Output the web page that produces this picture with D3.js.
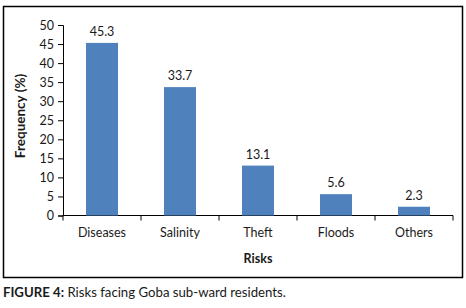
<!DOCTYPE html>
<html>
<head>
<meta charset="utf-8">
<script src="https://cdn.jsdelivr.net/npm/d3@7"></script>
<style>
  body { margin: 0; background: #fff; }
  svg text { font-family: Lato, "Open Sans", sans-serif; fill: #1a1a1a; }
</style>
</head>
<body>
<div id="chart"></div>
<script>
// data
const risks = ["Diseases", "Salinity", "Theft", "Floods", "Others"]
const frequency = [45.3, 33.7, 13.1, 5.6, 2.3]
const yTicks = [0, 5, 10, 15, 20, 25, 30, 35, 40, 45, 50]

const W = 466, H = 308
const svg = d3.select("#chart").append("svg")
    .attr("width", W).attr("height", H)

// outer frame
svg.append("rect").attr("x", 3.5).attr("y", 6.5).attr("width", 459).attr("height", 271)
    .attr("fill", "none").attr("stroke", "#000").attr("stroke-width", 1.5)

let x = d3.scaleBand().domain(risks).range([63, 453]).paddingInner(0.59).paddingOuter(0.295)
let y = d3.scaleLinear().domain([0, 50]).range([215.5, 25])

// y axis
let yAxis = svg.append("g").attr("transform", "translate(63,0)")
    .call(d3.axisLeft(y).tickValues(yTicks).tickSize(5).tickPadding(4))
yAxis.select(".domain").attr("stroke", "#000")
yAxis.selectAll("text").style("font-size", "12.5px")

// x axis with boundary ticks
let xg = svg.append("g")
xg.append("line").attr("x1", 63).attr("x2", 453).attr("y1", y(0)).attr("y2", y(0)).attr("stroke", "#000")
let bounds = d3.range(risks.length + 1).map(i => 63 + i * x.step())
xg.selectAll("line.tk").data(bounds).join("line").attr("class", "tk")
    .attr("x1", d => d).attr("x2", d => d)
    .attr("y1", y(0)).attr("y2", y(0) + 5).attr("stroke", "#000")
xg.selectAll("text").data(risks).join("text")
    .attr("x", d => x(d) + x.bandwidth() / 2).attr("y", 237)
    .attr("text-anchor", "middle").style("font-size", "12.5px").text(d => d)

// bars
svg.selectAll("rect.bar").data(frequency).join("rect").attr("class", "bar")
    .attr("x", (d, i) => x(risks[i])).attr("width", x.bandwidth())
    .attr("y", d => y(d)).attr("height", d => y(0) - y(d))
    .attr("fill", "#4F81BD")

// value labels
svg.selectAll("text.val").data(frequency).join("text").attr("class", "val")
    .attr("x", (d, i) => x(risks[i]) + x.bandwidth() / 2).attr("y", d => y(d) - 7)
    .attr("text-anchor", "middle").style("font-size", "12.5px").text(d => d.toFixed(1))

// axis titles
svg.append("text").attr("x", 258).attr("y", 263).attr("text-anchor", "middle")
    .style("font-size", "12.5px").style("font-weight", "bold").text("Risks")
svg.append("text").attr("transform", "translate(25,116) rotate(-90)").attr("text-anchor", "middle")
    .style("font-size", "13.5px").style("font-weight", "bold").text("Frequency (%)")

// caption
let cap = svg.append("text").attr("x", 3).attr("y", 297).style("font-size", "13.2px")
cap.append("tspan").style("font-weight", "bold").text("FIGURE 4:")
cap.append("tspan").text(" Risks facing Goba sub-ward residents.")
</script>
</body>
</html>
